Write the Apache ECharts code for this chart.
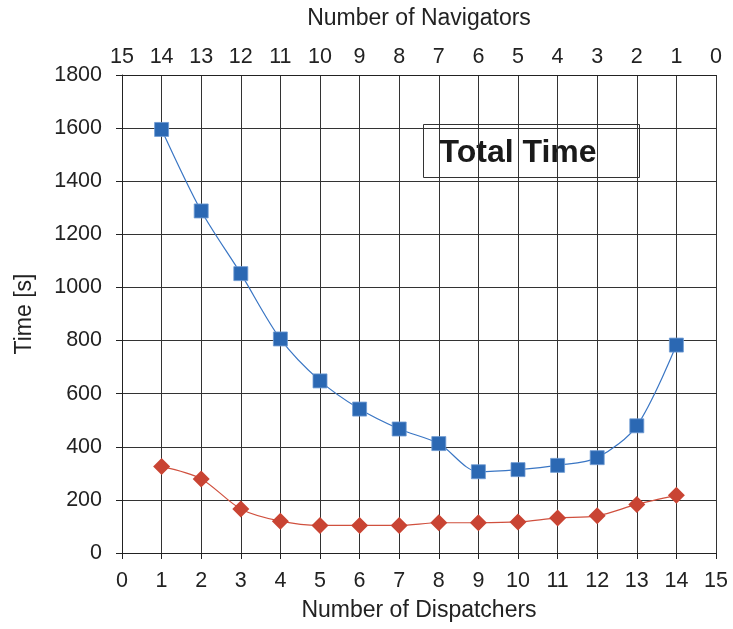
<!DOCTYPE html>
<html><head><meta charset="utf-8">
<script src="https://cdn.jsdelivr.net/npm/echarts@6/dist/echarts.min.js"></script>
<style>html,body{margin:0;padding:0;background:#fff}#c{width:733px;height:629px}</style>
</head><body><div id="c"></div>
<script>
const dispatchers = [1,2,3,4,5,6,7,8,9,10,11,12,13,14];
const totalBlue = [1595,1288,1052,806,648,542,467,412,306,314,330,359,479,783];
const totalRed = [326,279,166,120,104,104,104,114,114,117,132,140,183,217];
const yTicks = [0,200,400,600,800,1000,1200,1400,1600,1800];
const FONT = 'Liberation Sans';
const chart = echarts.init(document.getElementById('c'));
const labelStyle = {color:'#222', fontSize:21.5, fontFamily:FONT};
const nameStyle = {color:'#222', fontSize:23, fontFamily:FONT};
chart.setOption({
  animation:false,
  grid:{left:122,right:17,top:75,bottom:76,containLabel:false},
  xAxis:[{
    type:'value',min:0,max:15,interval:1,position:'bottom',
    name:'Number of Dispatchers',nameLocation:'middle',nameGap:46,
    nameTextStyle:nameStyle,
    axisLine:{show:true,lineStyle:{color:'#222',width:1}},
    axisTick:{show:true,length:6,lineStyle:{color:'#222'}},
    axisLabel:Object.assign({margin:17},labelStyle),
    splitLine:{show:true,lineStyle:{color:'#333',width:1}}
  },{
    type:'value',min:0,max:15,interval:1,position:'top',
    name:'Number of Navigators',nameLocation:'middle',nameGap:45,
    nameTextStyle:nameStyle,
    axisLine:{show:true,lineStyle:{color:'#222',width:1}},
    axisTick:{show:false},
    axisLabel:Object.assign({margin:7,formatter:v=>String(15-v)},labelStyle),
    splitLine:{show:false}
  }],
  yAxis:{
    type:'value',min:0,max:1800,interval:200,
    name:'Time [s]',nameLocation:'middle',nameGap:86,nameRotate:90,
    nameTextStyle:nameStyle,
    axisLine:{show:true,lineStyle:{color:'#222',width:1}},
    axisTick:{show:true,length:6,lineStyle:{color:'#222'}},
    axisLabel:Object.assign({margin:20,formatter:v=>yTicks.includes(v)?String(v):''},labelStyle),
    splitLine:{show:true,lineStyle:{color:'#333',width:1}}
  },
  graphic:[{
    type:'group',left:423,top:124,z:100,
    children:[
      {type:'rect',shape:{x:0,y:0,width:216,height:53},style:{fill:'#fff',stroke:'#333',lineWidth:1}},
      {type:'text',x:16,y:29,style:{text:'Total Time',fill:'#1a1a1a',font:'bold 32px "Liberation Sans"',verticalAlign:'middle'}}
    ]
  }],
  series:[{
    type:'line',smooth:0.3,data:dispatchers.map((d,i)=>[d,totalBlue[i]]),
    symbol:'rect',symbolSize:14,
    itemStyle:{color:'#2b68b3',borderColor:'#6f9bd3',borderWidth:0.8},lineStyle:{color:'#3a76c4',width:1.2}
  },{
    type:'line',smooth:0.3,data:dispatchers.map((d,i)=>[d,totalRed[i]]),
    symbol:'diamond',symbolSize:17,
    itemStyle:{color:'#c94433'},lineStyle:{color:'#d0503e',width:1.2}
  }]
});
</script></body></html>
